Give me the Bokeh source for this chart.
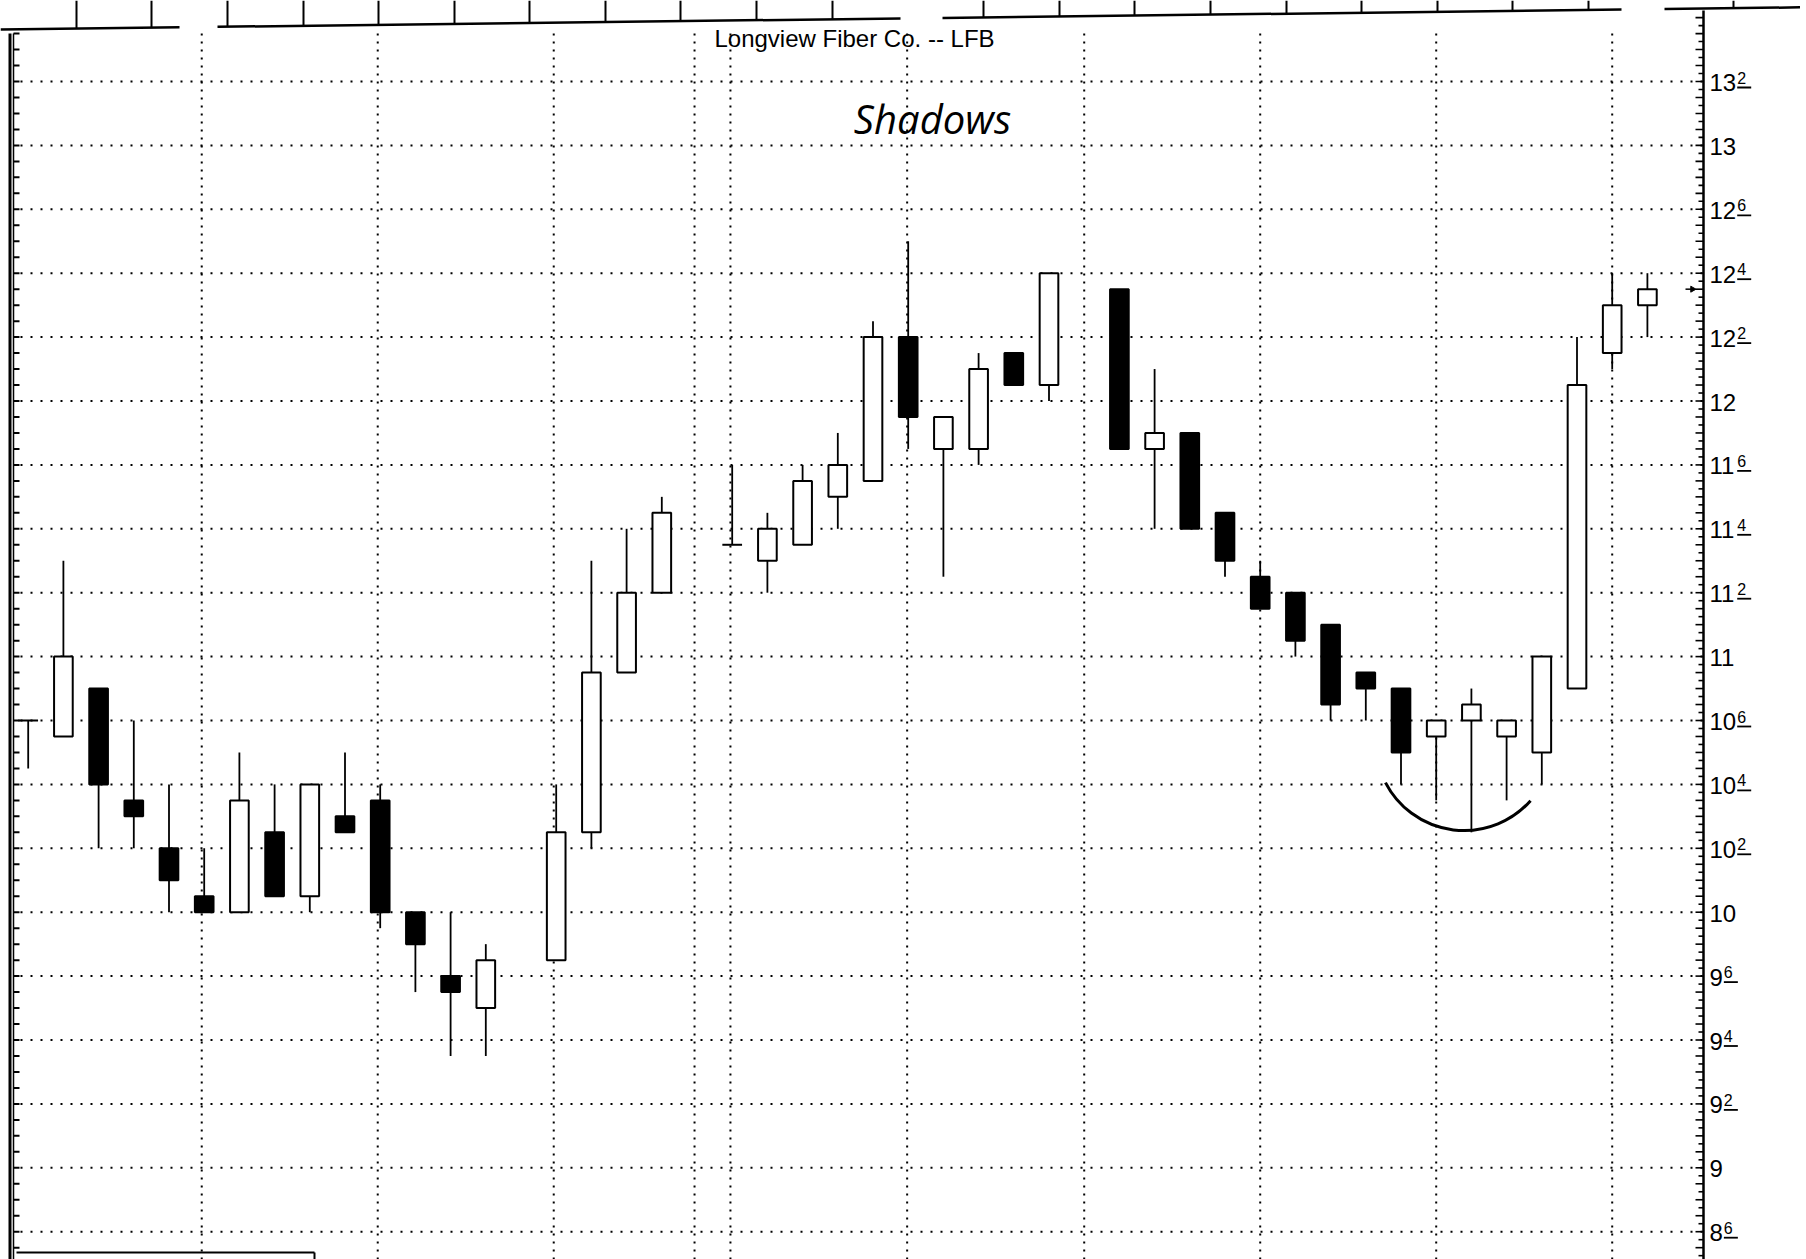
import numpy as np
from bokeh.plotting import figure
from bokeh.models import Range1d, ColumnDataSource
from bokeh.core.properties import value
from bokeh.embed import file_html
from bokeh.resources import INLINE

# ---------------- data (trading-day slot, OHLC in dollars) ----------------
day = list(range(0, 14)) + list(range(15, 19)) + list(range(20, 30)) + list(range(31, 47))

open_ = [10.75, 10.6875, 10.875, 10.4375, 10.25, 10.0625, 10.0, 10.3125, 10.0625, 10.375, 10.4375, 10.0, 9.75, 9.625,
         9.8125, 10.3125, 10.9375, 11.25,
         11.4375, 11.375, 11.4375, 11.625, 11.6875, 12.25, 11.8125, 11.8125, 12.1875, 12.0625,
         12.4375, 11.8125, 11.875, 11.5625, 11.3125, 11.25, 11.125, 10.9375, 10.875, 10.6875, 10.75, 10.6875, 10.625,
         10.875, 12.1875, 12.375]
high = [10.75, 11.375, 10.875, 10.75, 10.5, 10.25, 10.625, 10.5, 10.5, 10.625, 10.5, 10.0, 10.0, 9.875,
        10.5, 11.375, 11.5, 11.625,
        11.75, 11.5625, 11.75, 11.875, 12.3125, 12.625, 11.9375, 12.1875, 12.1875, 12.5,
        12.4375, 12.125, 11.875, 11.5625, 11.375, 11.25, 11.125, 10.9375, 10.875, 10.75, 10.875, 10.75, 11.0,
        12.25, 12.5, 12.5]
low = [10.5625, 10.6875, 10.25, 10.25, 10.0, 10.0, 10.0, 10.0625, 10.0, 10.3125, 9.9375, 9.6875, 9.4375, 9.4375,
       9.8125, 10.25, 10.9375, 11.25,
       11.4375, 11.25, 11.4375, 11.5, 11.6875, 11.8125, 11.3125, 11.75, 12.0625, 12.0,
       11.8125, 11.5, 11.5, 11.3125, 11.1875, 11.0, 10.75, 10.75, 10.5, 10.4375, 10.3125, 10.4375, 10.5,
       10.875, 12.125, 12.25]
close = [10.75, 11.0, 10.5, 10.375, 10.125, 10.0, 10.4375, 10.0625, 10.5, 10.3125, 10.0, 9.875, 9.6875, 9.8125,
         10.3125, 10.9375, 11.25, 11.5625,
         11.4375, 11.5, 11.6875, 11.75, 12.25, 11.9375, 11.9375, 12.125, 12.0625, 12.5,
         11.8125, 11.875, 11.5, 11.375, 11.1875, 11.0625, 10.8125, 10.875, 10.625, 10.75, 10.8125, 10.75, 11.0,
         12.0625, 12.375, 12.4375]

tick_vals = [8.75, 9.0, 9.25, 9.5, 9.75, 10.0, 10.25, 10.5, 10.75, 11.0, 11.25, 11.5, 11.75,
             12.0, 12.25, 12.5, 12.75, 13.0, 13.25]
tick_whole = ["8", "9", "9", "9", "9", "10", "10", "10", "10", "11", "11", "11", "11",
              "12", "12", "12", "12", "13", "13"]
tick_eighths = ["6", "", "2", "4", "6", "", "2", "4", "6", "", "2", "4", "6",
                "", "2", "4", "6", "", "2"]
week_lines = [4.93, 9.93, 14.93, 18.93, 19.95, 24.97, 30.0, 35.0, 40.0, 45.0]

title_text = "Longview Fiber Co. -- LFB"
note_text = "Shadows"


# ---------------- helpers for annotation placement (page pixels -> data) ----------------
def px2x(px):
    return (px - 27.7) / 35.2


def py2y(py):
    return 13.25 - (py - 81) / 255.6


FW, FH = 1800, 1259
X0, X1 = px2x(0), px2x(FW)
Y0, Y1 = py2y(FH), py2y(0)
AX = 1703          # right price-axis position (page px)
K = "black"

p = figure(frame_width=FW, frame_height=FH,
           x_range=Range1d(X0, X1), y_range=Range1d(Y0, Y1),
           x_axis_location=None, y_axis_location=None,
           toolbar_location=None, output_backend="svg",
           min_border_left=0, min_border_top=0, min_border_bottom=0, min_border_right=0)
p.outline_line_color = None
p.background_fill_color = "white"
p.border_fill_color = "white"
p.grid.visible = False

# horizontal dotted grid (stops at the price axis)
n = len(tick_vals)
p.segment(x0=[px2x(20)] * n, y0=tick_vals, x1=[px2x(AX)] * n, y1=tick_vals,
          line_color=K, line_width=2, line_dash="2 8")

# vertical dotted week lines
m = len(week_lines)
p.segment(x0=week_lines, y0=[Y0] * m, x1=week_lines, y1=[py2y(30)] * m,
          line_color=K, line_width=2, line_dash="2 6")

# right price axis: line, 1/32 ticks, labels with underlined eighths
p.segment(x0=[px2x(AX)], y0=[Y0], x1=[px2x(AX)], y1=[py2y(10)], line_color=K, line_width=2.5)
t32 = np.arange(8.65625, py2y(12), 1 / 32)
tl = [8 if abs(v * 16 - round(v * 16)) < 1e-9 else 5 for v in t32]
p.segment(x0=[px2x(AX - L) for L in tl], y0=list(t32), x1=[px2x(AX)] * len(t32), y1=list(t32),
          line_color=K, line_width=1.6)
p.text(x=[px2x(AX + 6)] * n, y=tick_vals, text=tick_whole, y_offset=1,
       text_font=value("Liberation Sans"), text_font_size="24px", text_align="left",
       text_baseline="alphabetic", text_color=K)
sx = [AX + 6 + 13.35 * len(w) + 1 for w in tick_whole]
sup_x = [px2x(s) for s, e in zip(sx, tick_eighths) if e]
sup_y = [v for v, e in zip(tick_vals, tick_eighths) if e]
sup_t = [e for e in tick_eighths if e]
p.text(x=sup_x, y=sup_y, text=sup_t, y_offset=-4,
       text_font=value("Liberation Sans"), text_font_size="16px", text_align="left",
       text_baseline="alphabetic", text_color=K)
ul_y = [v - 6 / 255.6 for v in sup_y]
p.segment(x0=[px2x(s) for s, e in zip(sx, tick_eighths) if e], y0=ul_y,
          x1=[px2x(s + 14) for s, e in zip(sx, tick_eighths) if e], y1=ul_y,
          line_color=K, line_width=1.8)

# left axis (double line + 1/16 ticks)
ly_top = py2y(33)
p.segment(x0=[px2x(9.5)], y0=[Y0], x1=[px2x(9.5)], y1=[ly_top], line_color=K, line_width=3)
p.segment(x0=[px2x(13)], y0=[Y0], x1=[px2x(13)], y1=[ly_top], line_color=K, line_width=1.5)
lt = list(np.arange(8.6875, ly_top, 0.0625))
p.segment(x0=[px2x(13)] * len(lt), y0=lt, x1=[px2x(19)] * len(lt), y1=lt, line_color=K, line_width=2)


# top strip (bottom edge of the panel above, slightly skewed in the scan)
def strip_y(px):
    return py2y(29 - 0.0123 * px)


for a, b in [(0, 179), (217, 900), (942, 1621), (1664, 1800)]:
    p.segment(x0=[px2x(a)], y0=[strip_y(a)], x1=[px2x(b)], y1=[strip_y(b)], line_color=K, line_width=2.5)
div = [76, 151, 227, 303, 378, 454, 529, 605, 680, 756, 832, 983, 1059, 1134, 1210, 1286, 1361, 1437, 1512,
       1588, 1733]
p.segment(x0=[px2x(d) for d in div], y0=[Y1] * len(div), x1=[px2x(d) for d in div],
          y1=[strip_y(d) for d in div], line_color=K, line_width=2)

# bottom-left box edge
by = py2y(1252)
p.segment(x0=[px2x(16)], y0=[by], x1=[px2x(314)], y1=[by], line_color=K, line_width=2)
p.segment(x0=[px2x(314)], y0=[by], x1=[px2x(314)], y1=[Y0], line_color=K, line_width=2)

# ---------------- candles ----------------
src = ColumnDataSource(dict(day=day, open=open_, high=high, low=low, close=close))
p.segment(x0="day", y0="high", x1="day", y1="low", source=src, line_color=K, line_width=1.8)

bd, bt, bb, bf = [], [], [], []
dd, dy = [], []
for d, o, c in zip(day, open_, close):
    if o == c:
        dd.append(d)
        dy.append(o)
    else:
        bd.append(d)
        bt.append(max(o, c))
        bb.append(min(o, c))
        bf.append("black" if c < o else "white")
body = ColumnDataSource(dict(day=bd, top=bt, bot=bb, fill=bf))
p.vbar(x="day", width=0.53, top="top", bottom="bot", source=body,
       fill_color="fill", line_color=K, line_width=2)
p.segment(x0=[d - 0.28 for d in dd], y0=dy, x1=[d + 0.28 for d in dd], y1=dy, line_color=K, line_width=2)

# price marker arrow at last close
p.segment(x0=[px2x(1685)], y0=[close[-1]], x1=[px2x(1692)], y1=[close[-1]], line_color=K, line_width=1.5)
p.scatter(x=[px2x(1692)], y=[close[-1]], marker="triangle", size=6, angle=-np.pi / 2,
          fill_color=K, line_color=K)

# title and handwritten annotation
p.text(x=[px2x(854)], y=[py2y(37.5)], text=[title_text], text_font=value("Liberation Sans"),
       text_font_size="24px", text_align="center", text_baseline="middle", text_color=K)
p.text(x=[px2x(932)], y=[py2y(118)], text=[note_text], text_font=value("Open Sans"),
       text_font_size="40px", text_font_style="italic", text_align="center", text_baseline="middle",
       text_color=K)

# hand-drawn arc under the small candles
p.arc(x=[px2x(1463.7)], y=[10.666], radius=88.6, radius_units="screen",
      start_angle=np.radians(207.3), end_angle=np.radians(318.5), direction="anticlock",
      line_color=K, line_width=3)

open("out.html", "w").write(file_html(p, INLINE))
